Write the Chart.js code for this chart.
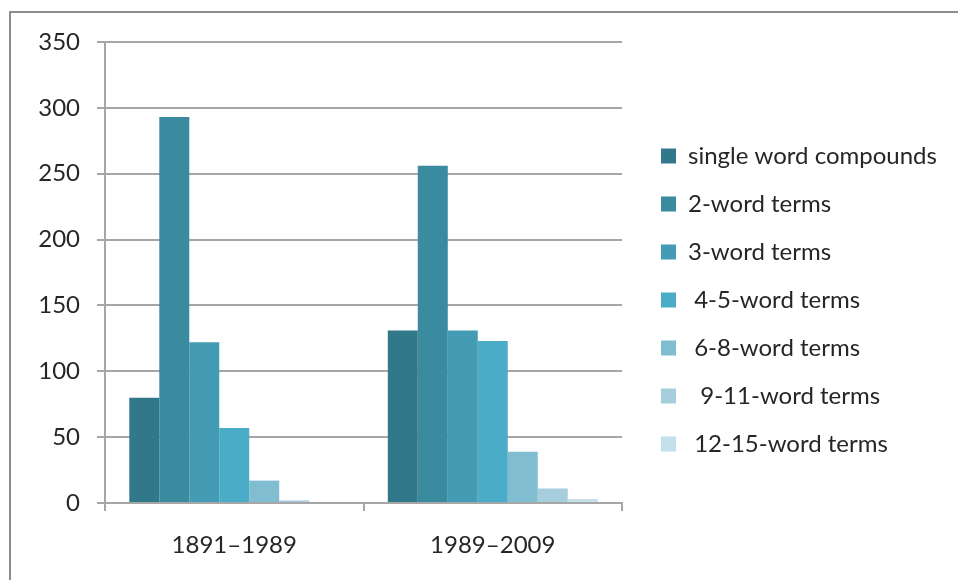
<!DOCTYPE html>
<html>
<head>
<meta charset="utf-8">
<script src="https://cdn.jsdelivr.net/npm/chart.js@4"></script>
<style>
  html, body { margin: 0; padding: 0; background: #fff; overflow: hidden; }
  #frame {
    position: absolute; left: 9px; top: 11px; width: 1000px; height: 1000px;
    border: 2px solid #8c8c8c;
  }
  #chart { position: absolute; left: 0; top: 0; }
</style>
</head>
<body>
<div id="frame"></div>
<canvas id="chart" width="958" height="580"></canvas>
<script>
// categories and series
var periods = ["1891\u20131989", "1989\u20132009"];
var seriesNames = [
  "single word compounds",
  "2-word terms",
  "3-word terms",
  " 4-5-word terms",
  " 6-8-word terms",
  "  9-11-word terms",
  " 12-15-word terms"
];
var singleWord = [80, 131];
var twoWord = [293, 256];
var threeWord = [122, 131];
var fourFiveWord = [57, 123];
var sixEightWord = [17, 39];
var nineElevenWord = [2, 11];
var twelveFifteenWord = [0, 3];
var yTicks = [0, 50, 100, 150, 200, 250, 300, 350];

var colors = ["#31788a", "#3a8aa0", "#439cb4", "#4aacc6", "#80bdd1", "#a6cedd", "#c4e0e9"];
var values = [singleWord, twoWord, threeWord, fourFiveWord, sixEightWord, nineElevenWord, twelveFifteenWord];

var gridColor = "#a6a6a6";
var textColor = "#262626";
var font = { family: "Lato", size: 24 };

// keep the legend a fixed width so the plot area lines up
var legendWidth = {
  id: "legendWidth",
  beforeLayout: function (chart) {
    var lg = chart.legend;
    if (lg && !lg._fixed) {
      var fit = lg.fit;
      lg.fit = function () {
        fit.call(this);
        this.width = 321;
      };
      lg._fixed = true;
    }
  }
};

new Chart(document.getElementById("chart"), {
  type: "bar",
  data: {
    labels: periods,
    datasets: values.map(function (v, i) {
      return {
        label: seriesNames[i],
        data: v,
        backgroundColor: colors[i],
        borderWidth: 0,
        yAxisID: "y"
      };
    })
  },
  options: {
    responsive: false,
    animation: false,
    layout: { padding: { top: 42, bottom: 22, left: 0, right: 0 } },
    datasets: {
      bar: { categoryPercentage: 0.812, barPercentage: 1 }
    },
    scales: {
      x: {
        grid: { display: true, drawOnChartArea: false, drawTicks: true, tickLength: 8, color: gridColor, lineWidth: 2, offset: true },
        border: { display: true, color: gridColor, width: 2 },
        ticks: { color: textColor, font: font, padding: 20 },
        afterFit: function (s) { s.height = 55; }
      },
      y: {
        min: 0,
        max: 350,
        afterBuildTicks: function (s) { s.ticks = yTicks.map(function (t) { return { value: t }; }); },
        grid: { color: gridColor, lineWidth: 2, tickLength: 8 },
        border: { display: true, color: gridColor, width: 2 },
        ticks: { color: textColor, font: font, padding: 17 },
        afterFit: function (s) { s.width = 105; }
      },
      // empty spacer between the plot and the legend
      gap: {
        type: "linear",
        position: "right",
        display: true,
        grid: { display: false },
        border: { display: false },
        ticks: { display: false },
        afterFit: function (s) { s.width = 15; }
      }
    },
    plugins: {
      tooltip: { enabled: false },
      legend: {
        position: "right",
        align: "center",
        labels: {
          boxWidth: 15,
          boxHeight: 15,
          padding: 24,
          color: textColor,
          font: font
        }
      }
    }
  },
  plugins: [legendWidth]
});
</script>
</body>
</html>
